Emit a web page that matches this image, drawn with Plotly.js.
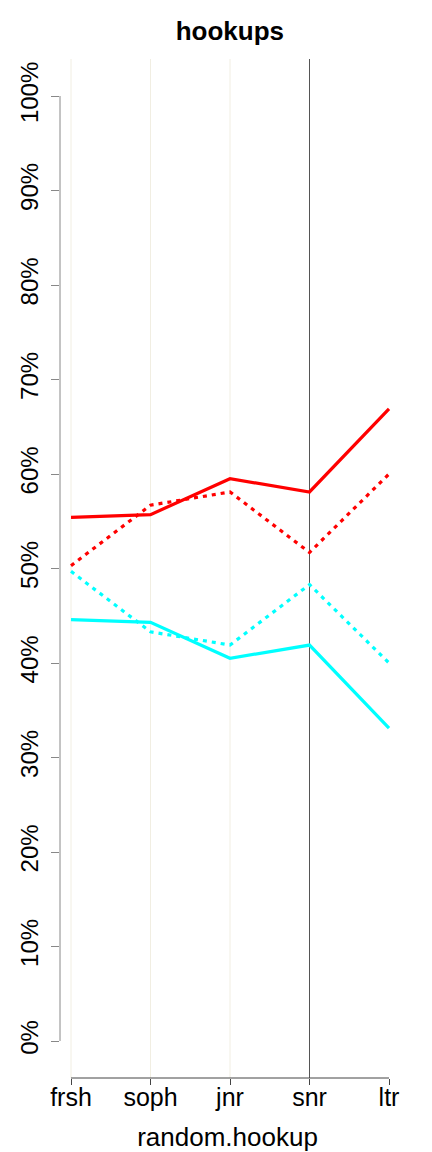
<!DOCTYPE html>
<html>
<head>
<meta charset="utf-8">
<script src="https://cdn.plot.ly/plotly-3.0.1.min.js"></script>
<style>html,body{margin:0;padding:0;background:#fff;}#chart{width:432px;height:1152px;}</style>
</head>
<body>
<div id="chart"></div>
<script>
var categories = ["frsh", "soph", "jnr", "snr", "ltr"];
var redSolid   = [55.4, 55.7, 59.5, 58.1, 66.9];
var redDotted  = [50.3, 56.7, 58.1, 51.7, 60.0];
var cyanSolid  = [44.6, 44.3, 40.5, 41.9, 33.1];
var cyanDotted = [49.7, 43.3, 41.9, 48.3, 40.0];
var yTickVals  = [0, 10, 20, 30, 40, 50, 60, 70, 80, 90, 100];
var yTickText  = ["0%", "10%", "20%", "30%", "40%", "50%", "60%", "70%", "80%", "90%", "100%"];
var titleText = "hookups";
var xTitleText = "random.hookup";

var idx = categories.map(function(_, i){ return i; });
var FONT = "Liberation Sans, Arial, Helvetica, sans-serif";

function tr(y, color, dash) {
  return {x: idx, y: y, type: "scatter", mode: "lines",
    line: {color: color, width: 3.2, dash: dash}, hoverinfo: "skip", showlegend: false};
}
var data = [
  tr(redSolid, "#FF0000", "solid"),
  tr(redDotted, "#FF0000", "4px,5px"),
  tr(cyanSolid, "#00FFFF", "solid"),
  tr(cyanDotted, "#00FFFF", "4px,5px")
];

var pxPerUnit = 79.5;
var shapes = [];
[0, 1, 2].forEach(function(i){
  shapes.push({type: "line", layer: "below", xref: "x", yref: "paper", x0: i, x1: i, y0: 0, y1: 1,
    line: {color: "#F1EEE2", width: 1}});
});
shapes.push({type: "line", layer: "below", xref: "x", yref: "paper", x0: 3, x1: 3, y0: 0, y1: 1,
  line: {color: "#555555", width: 1}});
shapes.push({type: "line", xref: "paper", yref: "y", x0: 0, x1: 0, y0: 0, y1: 100,
  line: {color: "#888888", width: 1}});
shapes.push({type: "line", xref: "x", yref: "paper", x0: 0, x1: categories.length - 1, y0: 0, y1: 0,
  line: {color: "#444444", width: 1}});

var layout = {
  width: 432, height: 1152,
  margin: {l: 60, r: 37, t: 59, b: 74},
  paper_bgcolor: "#fff", plot_bgcolor: "#fff",
  font: {family: FONT, color: "#000"},
  title: {text: "<b>" + titleText + "</b>", font: {size: 26, family: FONT, color: "#000"},
    x: 0.532, xanchor: "center", y: 1 - 31/1152, yanchor: "middle"},
  xaxis: {
    range: [-11/pxPerUnit, 4 + 6/pxPerUnit],
    tickvals: idx, ticktext: categories,
    showgrid: false, zeroline: false, showline: false,
    ticks: "outside", ticklen: 6, tickcolor: "#444444", tickwidth: 1,
    ticklabelstandoff: -9,
    tickfont: {size: 25, family: FONT, color: "#000"},
    title: {text: xTitleText, font: {size: 26, family: FONT, color: "#000"}, standoff: 18}
  },
  yaxis: {
    range: [-(1078 - 1041)/9.45, 100 + (96 - 59)/9.45],
    tickvals: yTickVals, ticktext: yTickText,
    tickangle: -90,
    showgrid: false, zeroline: false, showline: false,
    ticks: "outside", ticklen: 8, tickcolor: "#888888", tickwidth: 1,
    ticklabelstandoff: 3,
    tickfont: {size: 24, family: FONT, color: "#000"}
  },
  shapes: shapes
};

Plotly.newPlot("chart", data, layout, {displayModeBar: false, staticPlot: true});
</script>
</body>
</html>
